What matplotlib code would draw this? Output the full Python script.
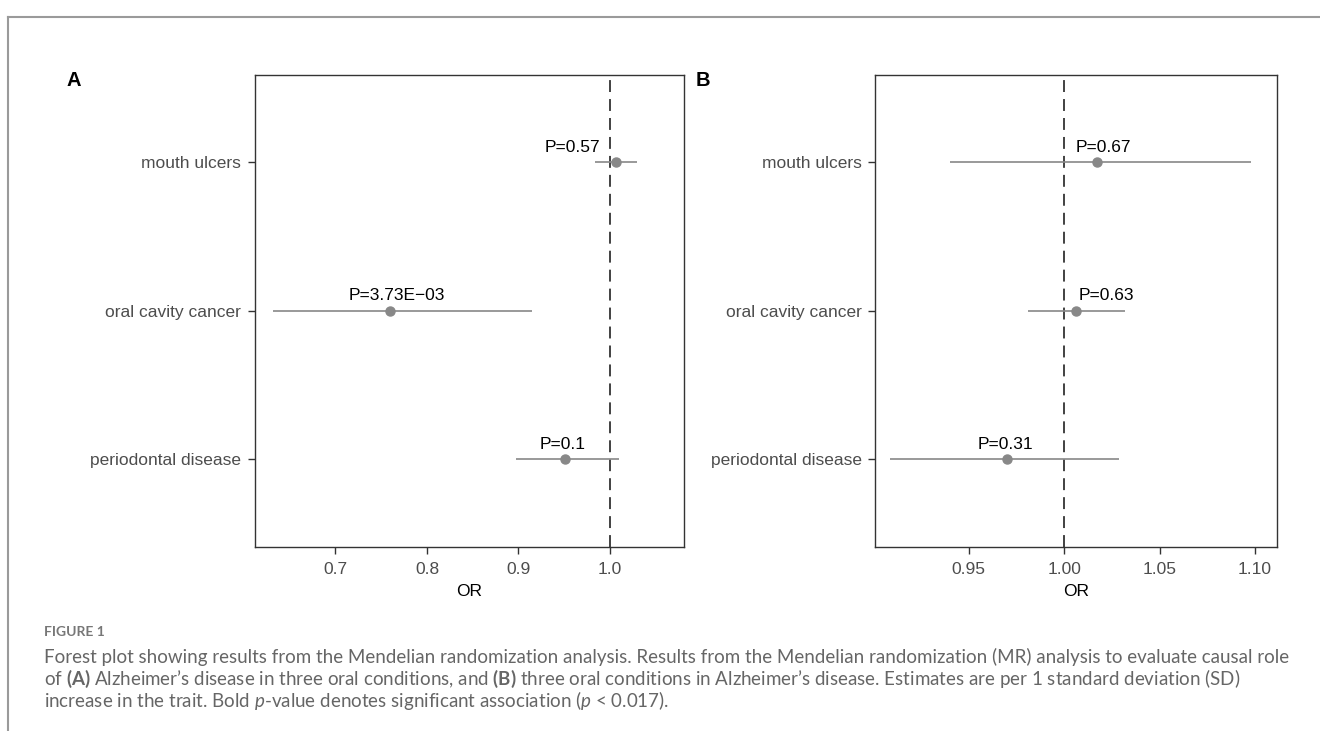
import matplotlib.pyplot as plt
from matplotlib.lines import Line2D

# outcomes, top to bottom
outcomes = ['mouth ulcers', 'oral cavity cancer', 'periodontal disease']

# panel A: Alzheimer's disease -> oral conditions
or_a = [1.007, 0.760, 0.951]
lo_a = [0.984, 0.632, 0.897]
hi_a = [1.030, 0.915, 1.010]
p_a = ['P=0.57', 'P=3.73E\u221203', 'P=0.1']

# panel B: oral conditions -> Alzheimer's disease
or_b = [1.017, 1.006, 0.970]
lo_b = [0.940, 0.981, 0.909]
hi_b = [1.098, 1.032, 1.029]
p_b = ['P=0.67', 'P=0.63', 'P=0.31']

xticks_a = [0.7, 0.8, 0.9, 1.0]
xticks_b = [0.95, 1.00, 1.05, 1.10]

# label nudges in pixels (like ggrepel)
nudge_a = [-44, 6, -2]
nudge_b = [7, 31, -1]

plt.rcParams['font.family'] = ['Liberation Sans', 'DejaVu Sans']
plt.rcParams['mathtext.fontset'] = 'custom'
plt.rcParams['mathtext.bf'] = 'Lato:bold'
plt.rcParams['mathtext.it'] = 'Lato:italic'
plt.rcParams['mathtext.rm'] = 'Lato'

W, H = 1320, 731
fig = plt.figure(figsize=(W / 100, H / 100), dpi=100)

ax_a = fig.add_axes([255 / W, 1 - 546.5 / H, 429 / W, 471.5 / H])
ax_b = fig.add_axes([875.5 / W, 1 - 546.5 / H, 401.5 / W, 471.5 / H])


def forest(ax, est, lo, hi, plabels, nudges, xticks, xlim, fmt):
    y = list(range(len(outcomes), 0, -1))
    ax.axvline(1.0, color='#333333', lw=1.3, dashes=(6.6, 3.9), zorder=1)
    ax.hlines(y, lo, hi, color='#888888', lw=1.2, zorder=2)
    ax.plot(est, y, 'o', color='#888888', ms=6.5, zorder=3)
    for xi, yi, lab, dx in zip(est, y, plabels, nudges):
        ax.annotate(lab, (xi, yi), xytext=(dx, 15), textcoords='offset pixels',
                    ha='center', va='center', fontsize=12.5, color='black')
    ax.set_ylim(0.41, 3.59)
    ax.set_xlim(*xlim)
    ax.set_yticks(y)
    ax.set_yticklabels(outcomes)
    ax.set_xticks(xticks)
    ax.set_xticklabels([fmt.format(t) for t in xticks])
    ax.set_xlabel('OR', fontsize=12.5, color='black', labelpad=5)
    for s in ax.spines.values():
        s.set_color('#333333')
        s.set_linewidth(1.0)
    ax.tick_params(axis='both', length=5, width=1, color='#333333',
                   labelcolor='#4D4D4D', labelsize=12.5)
    ax.tick_params(axis='x', pad=6.5)
    ax.tick_params(axis='y', pad=5)


forest(ax_a, or_a, lo_a, hi_a, p_a, nudge_a, xticks_a, (0.612, 1.081), '{:.1f}')
forest(ax_b, or_b, lo_b, hi_b, p_b, nudge_b, xticks_b, (0.9012, 1.1115), '{:.2f}')

fig.text(74 / W, 1 - 80 / H, 'A', fontsize=14.5, fontweight='bold', ha='center', va='center')
fig.text(703 / W, 1 - 80 / H, 'B', fontsize=14.5, fontweight='bold', ha='center', va='center')

# outer frame (top and left)
fig.add_artist(Line2D([8 / W, 1], [1 - 17 / H, 1 - 17 / H], color='#9a9a9a', lw=1.5))
fig.add_artist(Line2D([8 / W, 8 / W], [0, 1 - 17 / H], color='#9a9a9a', lw=1.5))

# caption
cap_x = 44 / W
fig.text(cap_x, 1 - 632 / H, 'FIGURE 1', family='Lato', fontweight='bold',
         fontsize=10, color='#777777', va='center')
cap_lines = [
    'Forest plot showing results from the Mendelian randomization analysis. '
    'Results from the Mendelian randomization (MR) analysis to evaluate causal role',
    'of $\\mathbf{(A)}$ Alzheimer\u2019s disease in three oral conditions, and '
    '$\\mathbf{(B)}$ three oral conditions in Alzheimer\u2019s disease. '
    'Estimates are per 1 standard deviation (SD)',
    'increase in the trait. Bold $\\mathit{p}$-value denotes significant association '
    '($\\mathit{p}$ < 0.017).',
]
for i, line in enumerate(cap_lines):
    fig.text(cap_x, 1 - (657 + 22 * i) / H, line, family='Lato', fontsize=13.5,
             color='#666666', va='center')

fig.savefig('out.png', dpi=100)
